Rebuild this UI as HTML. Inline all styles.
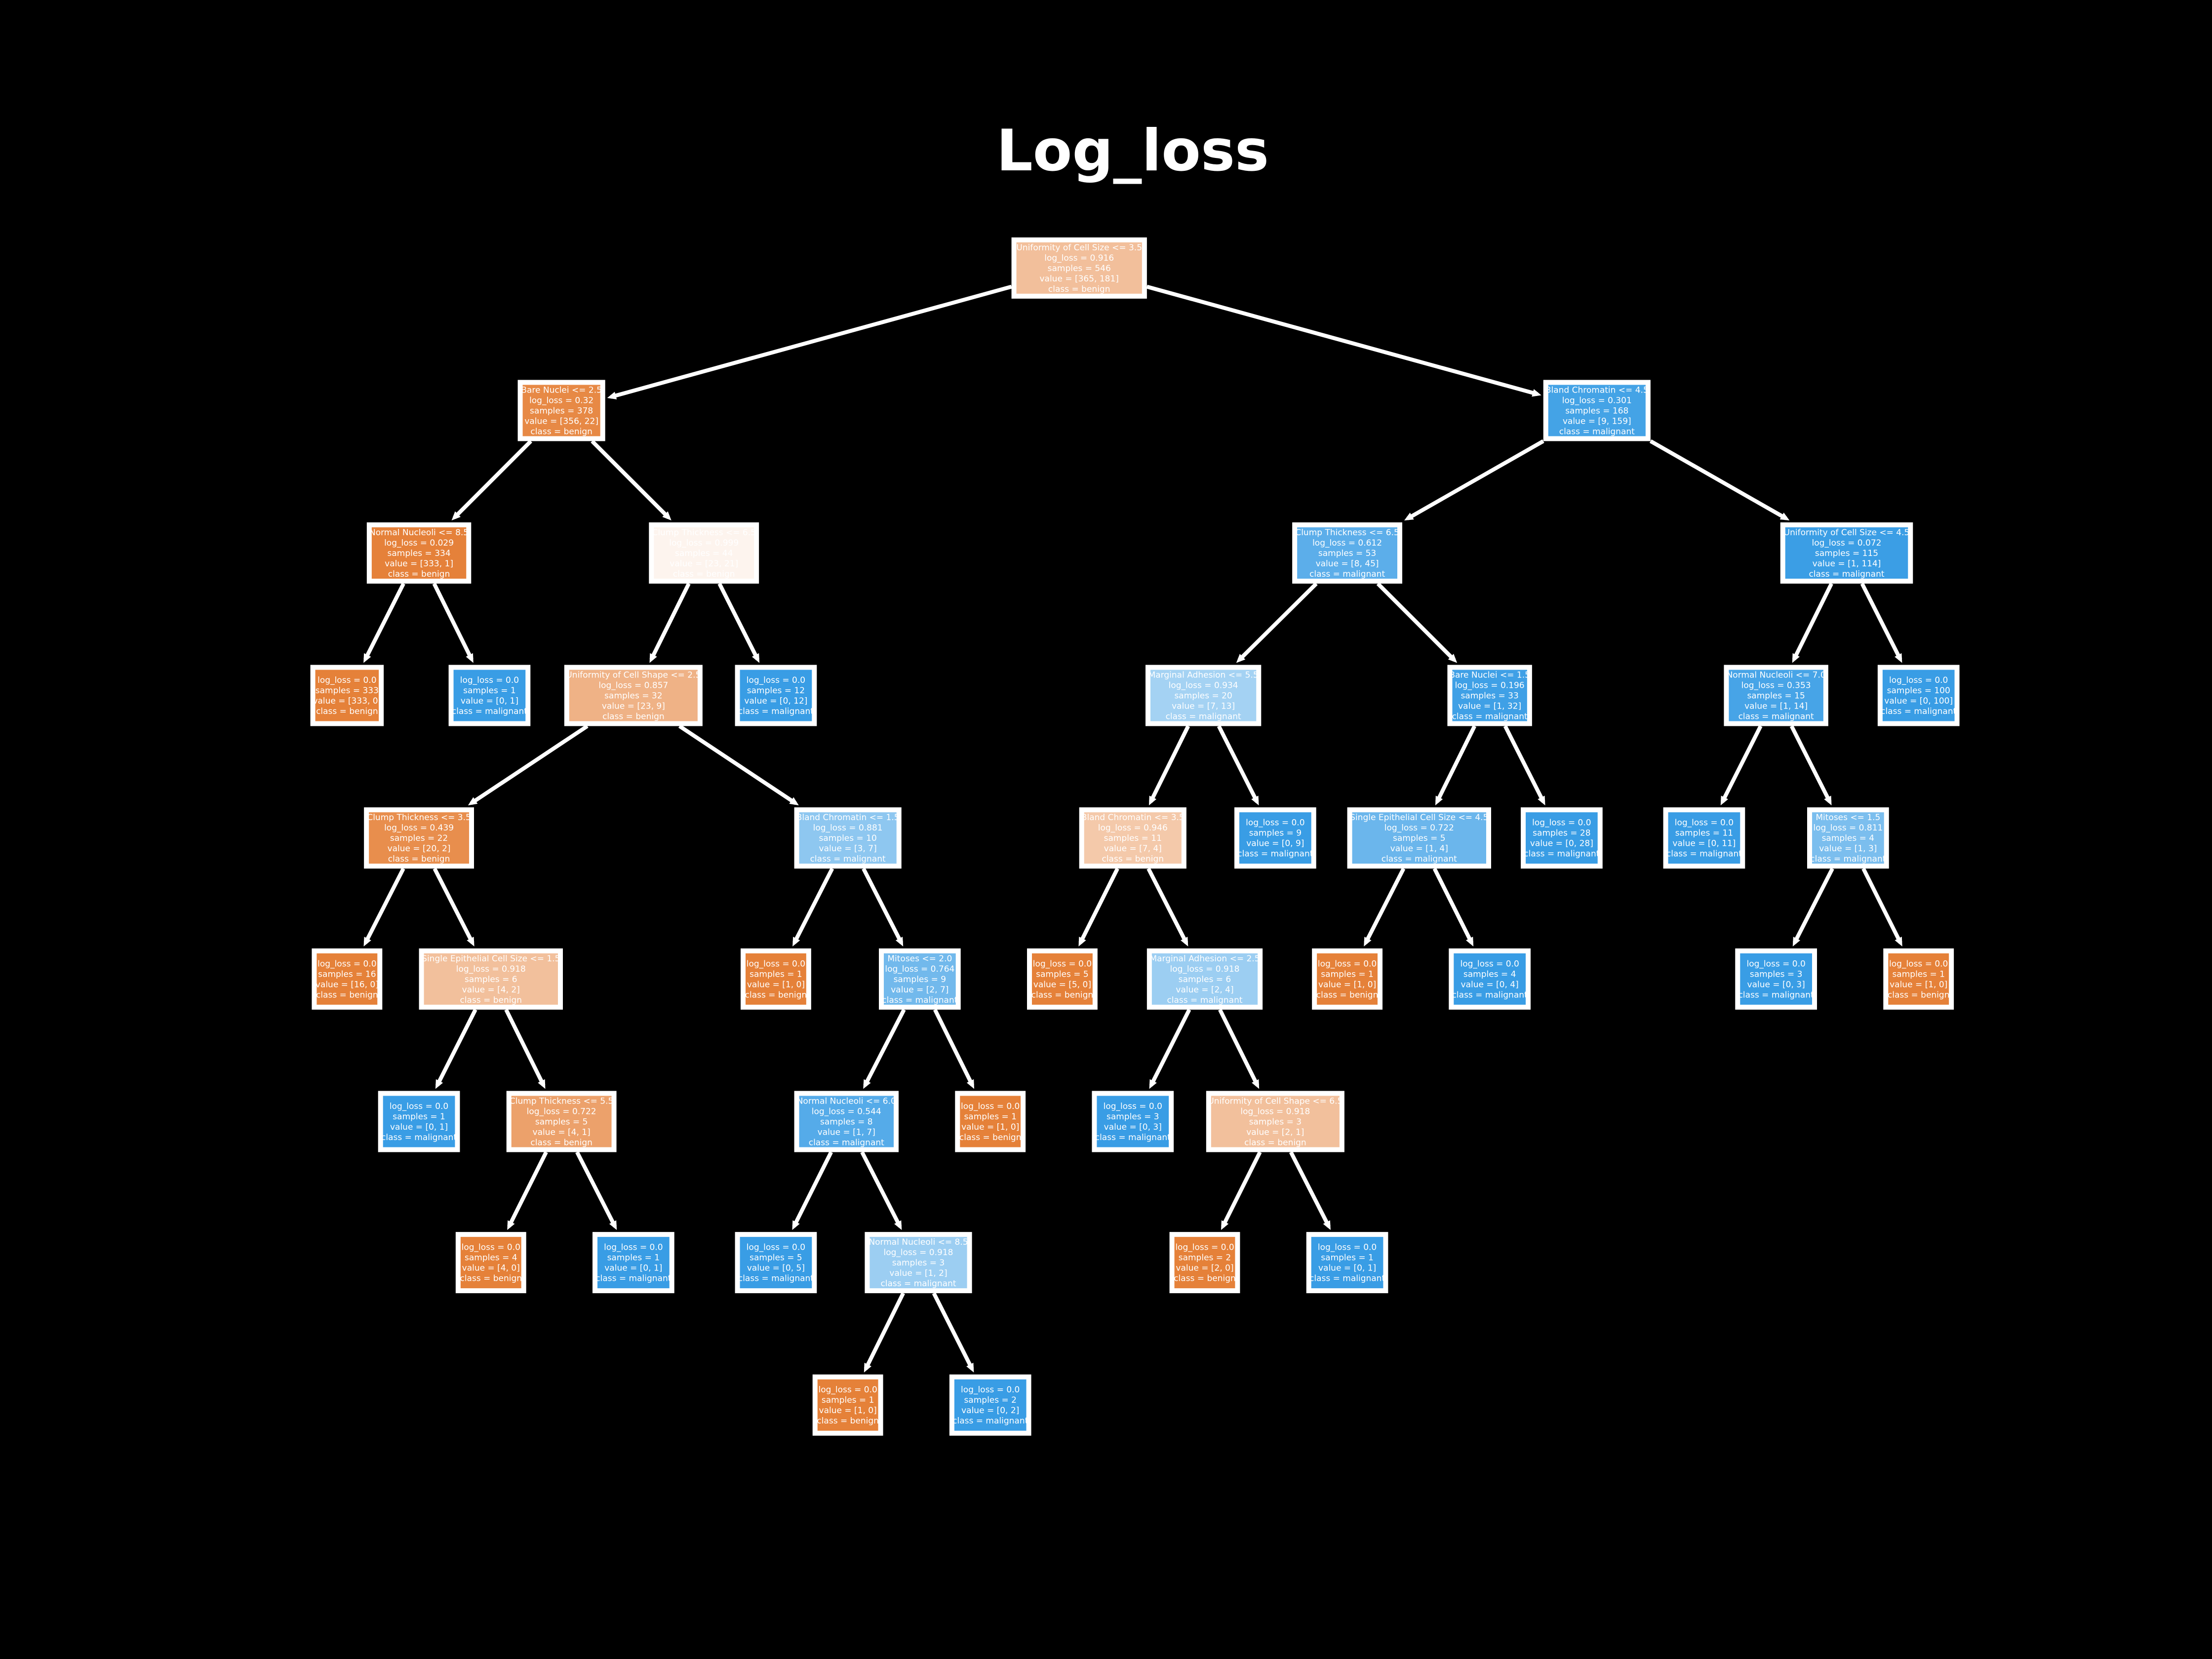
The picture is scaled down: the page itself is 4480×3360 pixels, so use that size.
<!DOCTYPE html>
<html><head><meta charset="utf-8"><style>
html,body{margin:0;padding:0;background:#000;width:4480px;height:3360px;overflow:hidden}
</style></head><body>
<svg id="s" xmlns="http://www.w3.org/2000/svg" width="4480" height="3360" viewBox="0 0 4480 3360">
<rect width="4480" height="3360" fill="#000"/>
<text x="2294" y="345" text-anchor="middle" font-family="DejaVu Sans, Liberation Sans, sans-serif" font-weight="bold" font-size="116" fill="#fff">Log_loss</text>
</svg>
<script>
const K=4480/1568;
const N=[
[765,190,96,"Uniformity of Cell Size <= 3.5","0.916",546,[365,181]],
[398,291,62,"Bare Nuclei <= 2.5","0.32",378,[356,22]],
[1132,291,76,"Bland Chromatin <= 4.5","0.301",168,[9,159]],
[297,392,74,"Normal Nucleoli <= 8.5","0.029",334,[333,1]],
[499,392,78,"Clump Thickness <= 6.5","0.999",44,[23,21]],
[955,392,78,"Clump Thickness <= 6.5","0.612",53,[8,45]],
[1309,392,94,"Uniformity of Cell Size <= 4.5","0.072",115,[1,114]],
[246,493,52,null,"0.0",333,[333,0]],
[347,493,58,null,"0.0",1,[0,1]],
[449,493,98,"Uniformity of Cell Shape <= 2.5","0.857",32,[23,9]],
[550,493,58,null,"0.0",12,[0,12]],
[853,493,82,"Marginal Adhesion <= 5.5","0.934",20,[7,13]],
[1056,493,60,"Bare Nuclei <= 1.5","0.196",33,[1,32]],
[1259,493,74,"Normal Nucleoli <= 7.0","0.353",15,[1,14]],
[1360,493,58,null,"0.0",100,[0,100]],
[297,594,78,"Clump Thickness <= 3.5","0.439",22,[20,2]],
[601,594,76,"Bland Chromatin <= 1.5","0.881",10,[3,7]],
[803,594,76,"Bland Chromatin <= 3.5","0.946",11,[7,4]],
[904,594,58,null,"0.0",9,[0,9]],
[1006,594,102,"Single Epithelial Cell Size <= 4.5","0.722",5,[1,4]],
[1107,594,58,null,"0.0",28,[0,28]],
[1208,594,58,null,"0.0",11,[0,11]],
[1310,594,58,"Mitoses <= 1.5","0.811",4,[1,3]],
[246,694,50,null,"0.0",16,[16,0]],
[348,694,102,"Single Epithelial Cell Size <= 1.5","0.918",6,[4,2]],
[550,694,50,null,"0.0",1,[1,0]],
[652,694,58,"Mitoses <= 2.0","0.764",9,[2,7]],
[753,694,50,null,"0.0",5,[5,0]],
[854,694,82,"Marginal Adhesion <= 2.5","0.918",6,[2,4]],
[955,694,50,null,"0.0",1,[1,0]],
[1056,694,58,null,"0.0",4,[0,4]],
[1259,694,58,null,"0.0",3,[0,3]],
[1360,694,50,null,"0.0",1,[1,0]],
[297,795,58,null,"0.0",1,[0,1]],
[398,795,78,"Clump Thickness <= 5.5","0.722",5,[4,1]],
[600,795,74,"Normal Nucleoli <= 6.0","0.544",8,[1,7]],
[702,795,50,null,"0.0",1,[1,0]],
[803,795,58,null,"0.0",3,[0,3]],
[904,795,98,"Uniformity of Cell Shape <= 6.5","0.918",3,[2,1]],
[348,895,50,null,"0.0",4,[4,0]],
[449,895,58,null,"0.0",1,[0,1]],
[550,895,58,null,"0.0",5,[0,5]],
[651,895,76,"Normal Nucleoli <= 8.5","0.918",3,[1,2]],
[854,895,50,null,"0.0",2,[2,0]],
[955,895,58,null,"0.0",1,[0,1]],
[601,996,50,null,"0.0",1,[1,0]],
[702,996,58,null,"0.0",2,[0,2]]
];
const E=[[0,1],[0,2],[1,3],[1,4],[2,5],[2,6],[3,7],[3,8],[4,9],[4,10],[5,11],[5,12],[6,13],[6,14],
[9,15],[9,16],[11,17],[11,18],[12,19],[12,20],[13,21],[13,22],[15,23],[15,24],[16,25],[16,26],[17,27],[17,28],
[19,29],[19,30],[22,31],[22,32],[24,33],[24,34],[26,35],[26,36],[28,37],[28,38],[34,39],[34,40],[35,41],[35,42],
[38,43],[38,44],[42,45],[42,46]];
const H=114;
const s=document.getElementById('s');
const ns='http://www.w3.org/2000/svg';
function el(t,a,p){const e=document.createElementNS(ns,t);for(const k in a)e.setAttribute(k,a[k]);(p||s).appendChild(e);return e;}
function col(v){const b=v[0]>=v[1];const mx=Math.max(...v),mn=Math.min(...v);const a=(mx-mn)/mx;
const base=b?[229,129,57]:[57,157,229];return 'rgb('+base.map(c=>Math.round(c*a+255*(1-a))).join(',')+')';}
const B=N.map(n=>({cx:n[0]*K,cy:n[1]*K,w:n[2]*K-10,h:H}));
function clip(b,dx,dy,m){const hw=b.w/2+m,hh=b.h/2+m;const t=Math.min(Math.abs(dx)>1e-6?hw/Math.abs(dx):1e9,Math.abs(dy)>1e-6?hh/Math.abs(dy):1e9);return t;}
for(const [p,c] of E){const P=B[p],C=B[c];const dx=C.cx-P.cx,dy=C.cy-P.cy;const L=Math.hypot(dx,dy);
const t1=clip(P,dx,dy,5),t2=clip(C,dx,dy,9);
const x1=P.cx+dx*t1,y1=P.cy+dy*t1,x2=C.cx-dx*t2,y2=C.cy-dy*t2;
const ux=dx/L,uy=dy/L;
el('line',{x1:x1,y1:y1,x2:x2-ux*8,y2:y2-uy*8,stroke:'#fff','stroke-width':8});
const al=18,aw=8;
el('polygon',{points:`${x2},${y2} ${x2-ux*al-uy*aw},${y2-uy*al+ux*aw} ${x2-ux*al+uy*aw},${y2-uy*al-ux*aw}`,fill:'#fff'});}
N.forEach((n,i)=>{const b=B[i];
el('rect',{x:b.cx-b.w/2,y:b.cy-b.h/2,width:b.w,height:b.h,fill:col(n[6]),stroke:'#fff','stroke-width':10});
const lines=[];if(n[3])lines.push(n[3]);lines.push('log_loss = '+n[4]);lines.push('samples = '+n[5]);lines.push('value = ['+n[6][0]+', '+n[6][1]+']');lines.push('class = '+(n[6][0]>=n[6][1]?'benign':'malignant'));
const lh=21;const y0=b.cy-(lines.length-1)*lh/2+6;
lines.forEach((l,j)=>{const t=el('text',{x:b.cx,y:y0+j*lh,'text-anchor':'middle','font-family':'DejaVu Sans, Liberation Sans, sans-serif','font-size':17,fill:'#fff'});t.textContent=l;});
});
</script>
</body></html>
